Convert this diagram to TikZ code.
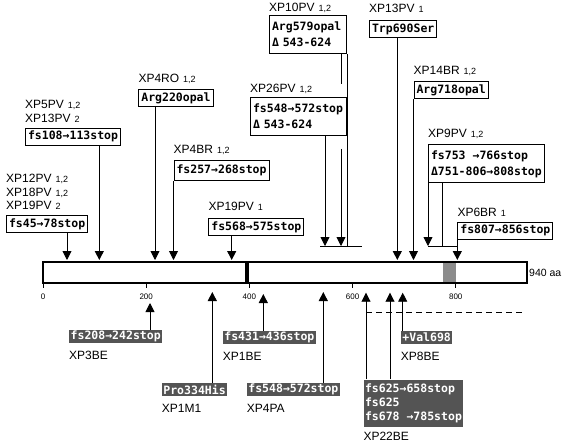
\documentclass[tikz,border=0pt]{standalone}
\usepackage{fontspec}
\setmainfont{Liberation Sans}
\newfontfamily\mutfont{DejaVu Sans Mono}
\usetikzlibrary{arrows.meta,positioning}
\tikzset{
  mut/.style={draw,line width=1.1pt,fill=white,inner xsep=2.5pt,inner ysep=1pt,minimum height=17pt,anchor=north west,align=left,font=\mutfont\bfseries\fontsize{11.5}{16}\selectfont},
  dark/.style={fill=black!67,text=white,inner xsep=1.5pt,inner ysep=.5pt,minimum height=13pt,anchor=north west,align=left,font=\mutfont\bfseries\fontsize{11.5}{14}\selectfont},
  lab/.style={inner sep=0pt,align=left,font=\fontsize{12}{13.5}\selectfont},
  dn/.style={line width=.9pt,-{Triangle[length=9pt,width=9pt]}},
  up/.style={line width=.9pt,-{Triangle[length=9pt,width=9pt]}},
}
\newcommand\allele[1]{\hspace{4pt}{\fontsize{9}{9}\selectfont #1}}
\begin{document}
\begin{tikzpicture}[x=1pt,y=-1pt]
\useasboundingbox (0,0) rectangle (570,445);
\fill[black!45] (443,262) rectangle (455.7,283);
\fill (245,262) rectangle (248.5,283);
\draw[line width=1.2pt] (43,262) rectangle (527,283);
\node[right,inner sep=1pt,font=\fontsize{10.5}{12}\selectfont] (len) at (528,273) {940 aa};
\foreach \t in {0,200,400,600,800}
  \draw[line width=.9pt] (43+.5159*\t,283) -- ++(0,5) node[below=5pt,inner sep=0pt,font=\fontsize{8}{9}\selectfont] (tk\t) {\t};

\foreach \n/\x/\y in {45/67/260,108/99.3/260,220/155/260,257/173.5/260,568/231.7/260,548/325/246,579/341/246,690/397.3/260,718/413.5/260,753/428/246,807/457.3/260}
  \coordinate (s\n) at (\x,\y);
\foreach \n/\x/\y in {208/150/303,334/212.3/292,431/263.3/294,548/323.3/292,625/366/292.7,678/390/292.7,698/402.7/292.7}
  \coordinate (u\n) at (\x,\y);
\coordinate (d543) at (320,246);
\coordinate (d624) at (362,246);
\coordinate (m753) at (442.7,246);
\coordinate (d806) at (457.3,246);
\coordinate (e785) at (525,312.3);

\node[mut] (b45) at (6,215) {fs45→78stop};
\node[mut] (b108) at (25,127.7) {fs108→113stop};
\node[mut] (b220) at (138.3,89.3) {Arg220opal};
\node[mut,minimum height=20pt] (b257) at (173.5,160) {fs257→268stop};
\node[mut] (b568) at (208.3,218.3) {fs568→575stop};
\node[mut,minimum height=38pt,text width=72pt] (b579) at (269,15) {Arg579opal\\Δ 543-624};
\node[mut,minimum height=38pt,text width=91pt] (b548) at (250,96.7) {fs548→572stop\\Δ 543-624};
\node[mut] (b690) at (369,20) {Trp690Ser};
\node[mut] (b718) at (413.5,81) {Arg718opal};
\node[mut,minimum height=38pt] (b753) at (428,144.3) {fs753 →766stop\\Δ751-806→808stop};
\node[mut] (b807) at (457.3,221.7) {fs807→856stop};

\node[lab,above=5pt of b45.north west,anchor=south west] (l45) {XP12PV\allele{1,2}\\XP18PV\allele{1,2}\\XP19PV\allele{2}};
\node[lab,above=5pt of b108.north west,anchor=south west] (l108) {XP5PV\allele{1,2}\\XP13PV\allele{2}};
\node[lab,above=5pt of b220.north west,anchor=south west] (l220) {XP4RO\allele{1,2}};
\node[lab,above=5pt of b257.north west,anchor=south west] (l257) {XP4BR\allele{1,2}};
\node[lab,above=7pt of b568.north west,anchor=south west] (l568) {XP19PV\allele{1}};
\node[lab,above=3pt of b548.north west,anchor=south west] (l548) {XP26PV\allele{1,2}};
\node[lab,above=2pt of b579.north west,anchor=south west] (l579) {XP10PV\allele{1,2}};
\node[lab,above=7pt of b690.north west,anchor=south west] (l690) {XP13PV\allele{1}};
\node[lab,above=5pt of b718.north west,anchor=south west] (l718) {XP14BR\allele{1,2}};
\node[lab,above=5pt of b753.north west,anchor=south west] (l753) {XP9PV\allele{1,2}};
\node[lab,above=5pt of b807.north west,anchor=south west] (l807) {XP6BR\allele{1}};

\draw[dn] (b45.south -| s45) -- (s45);
\draw[dn] (b108.south -| s108) -- (s108);
\draw[dn] (b220.south -| s220) -- (s220);
\draw[dn] (b257.south west) -- (s257);
\draw[dn] (b568.south -| s568) -- (s568);
\draw[dn] (b548.south -| s548) -- (s548);
\draw[line width=.9pt] (b579.south -| s579) -- (l548.north -| s579);
\draw[dn] (b548.south -| s579) ++(0,13) -- (s579);
\draw[line width=.9pt] (b579.south east) -- (b579.south east |- d543);
\draw[line width=.9pt] (d543) -- (d624);
\draw[dn] (b690.south -| s690) -- (s690);
\draw[dn] (b718.south west) -- (s718);
\draw[dn] (b753.south west) -- (s753);
\draw[line width=.9pt] (b753.south -| m753) -- (m753);
\draw[line width=.9pt] (s753) -- (d806);
\draw[dn] (b807.south west) -- (s807);

\node[dark] (d208) at (69,330) {fs208→242stop};
\node[dark] (d334) at (161.7,382.7) {Pro334His};
\node[dark] (d431) at (222.7,330.5) {fs431→436stop};
\node[dark] (d548) at (246.7,382.7) {fs548→572stop};
\node[dark] (d698) at (400.7,330.7) {+Val698};
\node[dark,minimum height=47pt] (d22) at (363.3,379.3) {fs625→658stop\\fs625\\fs678 →785stop};

\node[lab,below=8pt of d208.south west,anchor=north west] (l208) {XP3BE};
\node[lab,below=8pt of d334.south west,anchor=north west] (l334) {XP1M1};
\node[lab,below=8pt of d431.south west,anchor=north west] (l431) {XP1BE};
\node[lab,below=8pt of d548.south west,anchor=north west] (l548b) {XP4PA};
\node[lab,below=8pt of d698.south west,anchor=north west] (l698) {XP8BE};
\node[lab,below=5pt of d22.south west,anchor=north west] (l22) {XP22BE};

\draw[up] (d208.north -| u208) -- (u208);
\draw[up] (d334.north -| u334) -- (u334);
\draw[up] (d431.north -| u431) -- (u431);
\draw[up] (d548.north -| u548) -- (u548);
\draw[up] (d22.north -| u625) -- (u625);
\draw[up] (d22.north -| u678) -- (u678);
\draw[up] (d698.north -| u698) -- (u698);
\draw[line width=1pt,dash pattern=on 6pt off 4pt] (e785 -| u625) -- (e785);
\end{tikzpicture}
\end{document}
